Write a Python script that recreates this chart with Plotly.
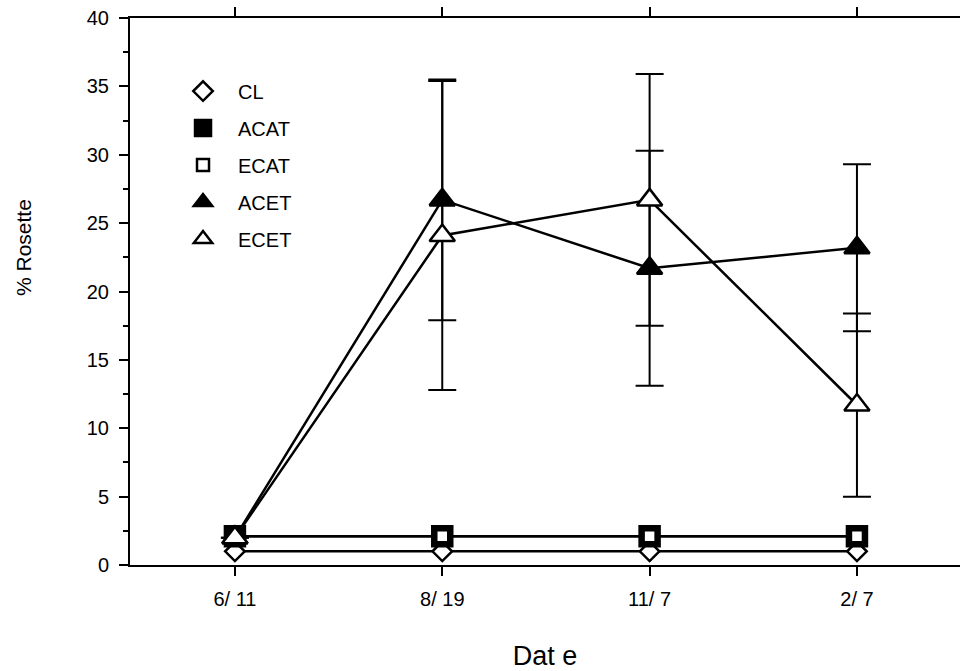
import plotly.graph_objects as go

dates = ["6/ 11", "8/ 19", "11/ 7", "2/ 7"]
xpos = [0, 1, 2, 3]

cl = [1.0, 1.0, 1.0, 1.0]
acat = [2.1, 2.1, 2.1, 2.1]
ecat = [2.1, 2.1, 2.1, 2.1]
acet = [2.0, 26.7, 21.7, 23.2]
ecet = [2.0, 24.1, 26.7, 11.7]
acet_err = [None, 8.8, 8.6, 6.1]
ecet_err = [None, 11.3, 9.2, 6.7]

LW = 2.5
fig = go.Figure()

series = [
    ("CL", cl, "diamond", 15, "white", None),
    ("ACAT", acat, "square", 20, "black", None),
    ("ECAT", ecat, "square", 12, "white", None),
    ("ACET", acet, "triangle-up", 22, "black", acet_err),
    ("ECET", ecet, "triangle-up", 22, "white", ecet_err),
]

for name, y, symbol, size, fill, err in series:
    fig.add_trace(go.Scatter(
        x=xpos, y=y, mode="lines", showlegend=False, hoverinfo="skip",
        line=dict(color="black", width=LW)))
    kw = {}
    if err is not None:
        kw["error_y"] = dict(type="data", array=err, symmetric=True,
                             color="black", thickness=2, width=14)
    fig.add_trace(go.Scatter(
        x=xpos, y=y, name=name, mode="markers", legendgroup=name,
        marker=dict(symbol=symbol, size=size, color=fill,
                    line=dict(color="black", width=2.5)),
        **kw))

fig.update_layout(
    width=960, height=671,
    margin=dict(l=130, r=0, t=18, b=106),
    plot_bgcolor="white", paper_bgcolor="white",
    font=dict(family="Arial, Liberation Sans, sans-serif", color="black", size=20),
    showlegend=True,
    legend=dict(x=0.0458, y=0.902, xanchor="left", yanchor="top",
                bgcolor="rgba(0,0,0,0)", font=dict(size=20),
                itemsizing="trace", tracegroupgap=8, traceorder="grouped",
                itemwidth=60),
    xaxis=dict(range=[-0.506, 3.497], tickvals=xpos, ticktext=dates,
               showline=True, linecolor="black", linewidth=2, mirror="allticks",
               ticks="outside", ticklen=9, tickwidth=2, tickcolor="black",
               showgrid=False, zeroline=False, ticklabelstandoff=6,
               tickfont=dict(size=20), automargin=False,
               title=dict(text="Dat e", font=dict(size=27), standoff=40)),
    yaxis=dict(range=[0, 40], tickvals=list(range(0, 41, 5)),
               showline=True, linecolor="black", linewidth=2,
               ticks="outside", ticklen=9, tickwidth=2, tickcolor="black",
               minor=dict(ticks="outside", ticklen=5, tickwidth=1.5,
                          tickcolor="black", dtick=2.5, showgrid=False),
               showgrid=False, zeroline=False, ticklabelstandoff=6,
               ticklabeloverflow="allow",
               tickfont=dict(size=20), automargin=False),
    annotations=[dict(text="% Rosette", xref="paper", yref="paper",
                      x=-0.1289, y=0.5795, textangle=-90, showarrow=False,
                      font=dict(size=21), xanchor="center", yanchor="middle")],
)

fig.write_html("out.html",
               config={"displayModeBar": False},
               post_script="document.body.style.margin='0';"
                           "document.body.style.overflow='hidden';")
